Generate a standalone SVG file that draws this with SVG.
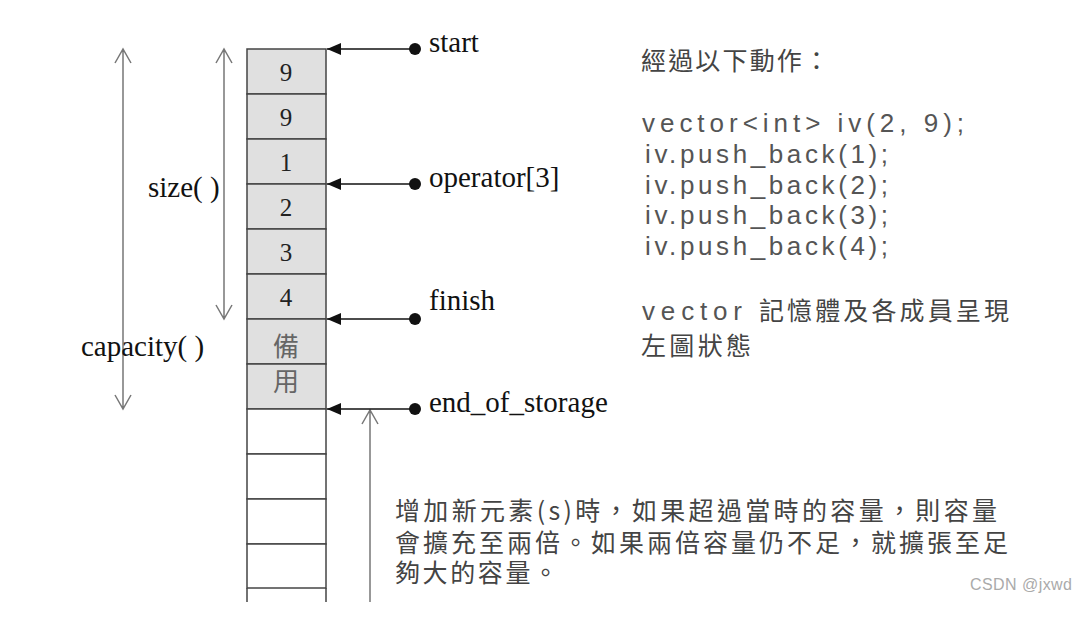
<svg xmlns="http://www.w3.org/2000/svg" width="1090" height="617" viewBox="0 0 1090 617">
<style>
.cell{fill:#e0e0e0;stroke:#444;stroke-width:1.5}
.empty{fill:#fff;stroke:#444;stroke-width:1.5}
.num{font-family:"Liberation Serif",serif;font-size:25px;fill:#222;text-anchor:middle}
.cjkc{font-family:"Noto Sans CJK TC",sans-serif;font-size:26px;fill:#666;text-anchor:middle}
.lbl{font-family:"Liberation Serif",serif;font-size:29px;fill:#111}
.dim{stroke:#777;stroke-width:1.5;fill:none}
.ptr{stroke:#111;stroke-width:1.5;fill:none}
.cn{font-family:"Noto Sans CJK TC",sans-serif;font-size:25px;fill:#444}
.code{font-family:"Liberation Sans",sans-serif;font-size:26px;fill:#555}
.wm{font-family:"Liberation Sans",sans-serif;font-size:16px;fill:#aaa}
</style>
<defs>
<marker id="tri" markerWidth="14" markerHeight="12" refX="14" refY="6" orient="auto" markerUnits="userSpaceOnUse">
<path d="M0,0 L14,6 L0,12 Z" fill="#111"/>
</marker>
</defs>
<rect width="1090" height="617" fill="#fff"/>
<g id="vector">
<rect class="cell" x="247" y="49" width="79" height="45"/>
<rect class="cell" x="247" y="94" width="79" height="45"/>
<rect class="cell" x="247" y="139" width="79" height="45"/>
<rect class="cell" x="247" y="184" width="79" height="45"/>
<rect class="cell" x="247" y="229" width="79" height="45"/>
<rect class="cell" x="247" y="274" width="79" height="45"/>
<rect class="cell" x="247" y="319" width="79" height="45"/>
<rect class="cell" x="247" y="364" width="79" height="45"/>
<rect class="empty" x="247" y="409" width="79" height="45"/>
<rect class="empty" x="247" y="454" width="79" height="45"/>
<rect class="empty" x="247" y="499" width="79" height="45"/>
<rect class="empty" x="247" y="544" width="79" height="44"/>
<path d="M247,588 V602 M326,588 V602" stroke="#444" stroke-width="1.5"/>
<text class="num" x="286" y="81">9</text>
<text class="num" x="286" y="126">9</text>
<text class="num" x="286" y="171">1</text>
<text class="num" x="286" y="216">2</text>
<text class="num" x="286" y="261">3</text>
<text class="num" x="286" y="306">4</text>
<text class="cjkc" x="286" y="356">備</text>
<text class="cjkc" x="286" y="391">用</text>
</g>
<g id="connectors">
<path class="dim" d="M123,50 V408 M115,63 L123,49 L131,63 M115,395 L123,409 L131,395"/>
<path class="dim" d="M224,50 V318 M216,63 L224,49 L232,63 M216,305 L224,319 L232,305"/>
<path class="dim" d="M370,410 V602 M362,424 L370,410 L378,424"/>
<line class="ptr" x1="415" y1="49" x2="327" y2="49" marker-end="url(#tri)"/>
<line class="ptr" x1="415" y1="184" x2="327" y2="184" marker-end="url(#tri)"/>
<line class="ptr" x1="415" y1="319" x2="327" y2="319" marker-end="url(#tri)"/>
<line class="ptr" x1="415" y1="409" x2="327" y2="409" marker-end="url(#tri)"/>
<circle cx="415" cy="49" r="6" fill="#111"/>
<circle cx="415" cy="184" r="6" fill="#111"/>
<circle cx="415" cy="319" r="6" fill="#111"/>
<circle cx="415" cy="409" r="6" fill="#111"/>
</g>
<g id="labels">
<text class="lbl" x="429" y="52">start</text>
<text class="lbl" x="429" y="187">operator[3]</text>
<text class="lbl" x="429" y="310">finish</text>
<text class="lbl" x="429" y="412">end_of_storage</text>
<text class="lbl" x="148" y="197">size( )</text>
<text class="lbl" x="81" y="356">capacity( )</text>
</g>
<g id="notes">
<text class="cn" x="641" y="70" font-size="27" textLength="188" lengthAdjust="spacing">經過以下動作：</text>
<text class="code" x="642" y="132" textLength="322" lengthAdjust="spacing">vector&lt;int&gt; iv(2, 9);</text>
<text class="code" x="645" y="163" textLength="243" lengthAdjust="spacing">iv.push_back(1);</text>
<text class="code" x="645" y="194" textLength="243" lengthAdjust="spacing">iv.push_back(2);</text>
<text class="code" x="645" y="224" textLength="243" lengthAdjust="spacing">iv.push_back(3);</text>
<text class="code" x="645" y="255" textLength="243" lengthAdjust="spacing">iv.push_back(4);</text>
<text class="code" x="642" y="320" textLength="100" lengthAdjust="spacing">vector</text>
<text class="cn" x="759" y="320" font-size="26" textLength="250" lengthAdjust="spacing">記憶體及各成員呈現</text>
<text class="cn" x="641" y="355" font-size="26" textLength="110" lengthAdjust="spacing">左圖狀態</text>
<text class="cn" x="395" y="520" textLength="602" lengthAdjust="spacing">增加新元素(s)時，如果超過當時的容量，則容量</text>
<text class="cn" x="395" y="552" textLength="613" lengthAdjust="spacing">會擴充至兩倍。如果兩倍容量仍不足，就擴張至足</text>
<text class="cn" x="395" y="582" textLength="163" lengthAdjust="spacing">夠大的容量。</text>
<text class="wm" x="970" y="590" textLength="102" lengthAdjust="spacing">CSDN @jxwd</text>
</g>
</svg>
